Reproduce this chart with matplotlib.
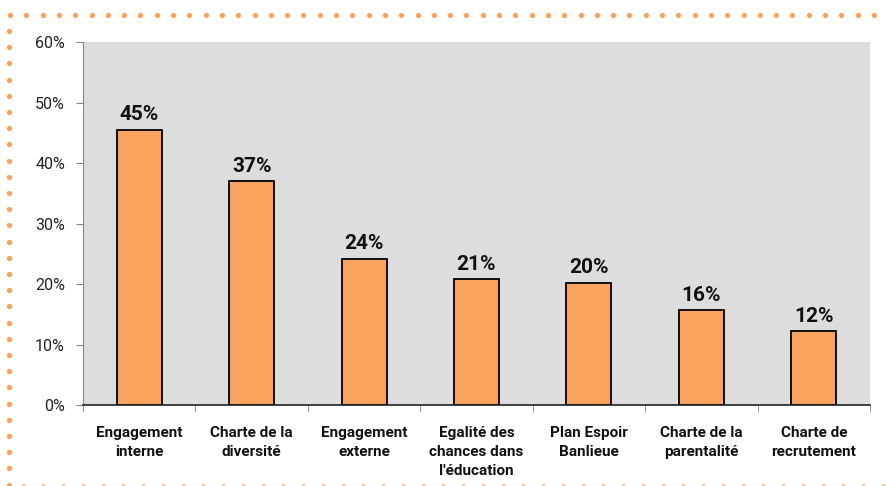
import matplotlib
matplotlib.use("Agg")
import matplotlib.pyplot as plt
from matplotlib.lines import Line2D
import numpy as np

categories = ["Engagement\ninterne", "Charte de la\ndiversité", "Engagement\nexterne",
              "Egalité des\nchances dans\nl'éducation", "Plan Espoir\nBanlieue",
              "Charte de la\nparentalité", "Charte de\nrecrutement"]
values = [45.5, 37.0, 24.2, 20.8, 20.2, 15.7, 12.2]
labels = ["45%", "37%", "24%", "21%", "20%", "16%", "12%"]
yticks = [0, 10, 20, 30, 40, 50, 60]

plt.rcParams['font.family'] = ['Roboto', 'DejaVu Sans']

W, H = 886, 486
fig = plt.figure(figsize=(W/100, H/100), dpi=100)
ax = fig.add_axes([83/W, 1-405/H, (870-83)/W, (405-42)/H])
ax.set_facecolor('#DDDDDD')
x = range(len(categories))
ax.bar(x, values, width=0.4, color='#F9A35E', edgecolor='black', linewidth=1.3, zorder=3)
for i, (v, l) in enumerate(zip(values, labels)):
    ax.text(i, v + 0.9, l, ha='center', va='bottom', fontsize=15, fontweight='bold', color='#111111')
ax.set_xlim(-0.5, len(categories) - 0.5)
ax.set_ylim(0, 60)
ax.set_yticks(yticks)
ax.set_yticklabels([f"{t}%" for t in yticks], fontsize=11.5, color='#222222')
ax.set_xticks(list(x))
ax.set_xticklabels(categories, fontsize=11, fontweight='bold', color='#111111', linespacing=1.45)
ax.tick_params(axis='x', length=0, pad=15)
ax.tick_params(axis='y', length=5, color='#888888', pad=8)
ax.set_xticks([i + 0.5 for i in range(-1, len(categories))], minor=True)
ax.tick_params(axis='x', which='minor', length=5, color='#888888')
for s in ['top', 'right']:
    ax.spines[s].set_visible(False)
ax.spines['left'].set_color('#888888')
ax.spines['bottom'].set_color('#222222')
ax.spines['bottom'].set_linewidth(1.2)
ax.spines['bottom'].set_zorder(4)

orange = '#F9A35E'
xs = np.arange(10, W, 16.3)
fig.add_artist(Line2D(xs/W, np.full_like(xs, 1-15/H), transform=fig.transFigure,
                      color=orange, marker='o', markersize=3.8, markeredgewidth=0, linestyle='none'))
ys = np.arange(31, 485, 16.2)
fig.add_artist(Line2D(np.full_like(ys, 9/W), 1-ys/H, transform=fig.transFigure,
                      color=orange, marker='o', markersize=3.8, markeredgewidth=0, linestyle='none'))
fig.add_artist(Line2D([22/W, 1], [1-485/H, 1-485/H], transform=fig.transFigure,
                      color=orange, linewidth=1.2, linestyle=(0, (2, 10)), alpha=0.7))

fig.savefig('out.png', dpi=100)
